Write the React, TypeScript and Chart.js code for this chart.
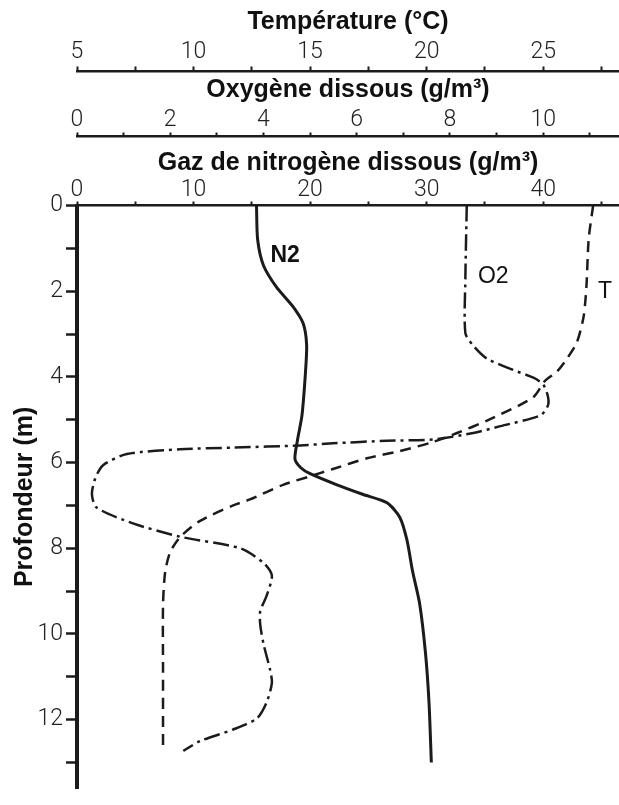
import React, { useEffect, useRef } from 'react';
import { Chart, registerables } from 'chart.js';

Chart.register(...registerables);

// Depth (m) and values
const n2Depth = [0, 0.8, 1.4, 1.9, 2.35, 2.75, 3.25, 3.9, 4.9, 5.5, 5.92, 6.12, 6.26, 6.52, 6.74, 6.94, 7.28, 7.8, 8.55, 9.3, 10.45, 11.6, 13.0];
const n2Values = [15.4, 15.5, 16.0, 17.1, 18.5, 19.4, 19.7, 19.6, 19.3, 18.9, 18.7, 19.2, 20.0, 22.3, 24.5, 26.6, 27.7, 28.3, 28.8, 29.4, 29.9, 30.2, 30.4];

const o2Depth = [0, 1.7, 2.98, 3.27, 3.57, 3.84, 4.02, 4.18, 4.45, 4.67, 4.9, 5.15, 5.31, 5.46, 5.49, 5.55, 5.6, 5.65, 5.69, 5.8, 6.06, 6.37, 6.74, 7.05, 7.42, 7.73, 8.0, 8.34, 8.64, 9.1, 9.47, 9.78, 10.23, 10.83, 11.14, 11.59, 11.97, 12.23, 12.5, 12.73];
const o2Values = [8.36, 8.33, 8.33, 8.5, 8.79, 9.36, 9.79, 10.0, 10.1, 10.1, 9.94, 9.08, 8.5, 7.64, 6.65, 5.49, 4.79, 3.35, 2.21, 1.07, 0.56, 0.39, 0.32, 0.42, 1.2, 2.21, 3.5, 4.0, 4.18, 4.07, 3.93, 3.93, 4.0, 4.14, 4.18, 4.07, 3.86, 3.35, 2.64, 2.28];

const tDepth = [0, 0.78, 1.91, 2.6, 3.2, 3.58, 3.88, 4.09, 4.48, 5.02, 5.31, 5.52, 5.73, 5.9, 6.15, 6.32, 6.52, 6.86, 7.0, 7.36, 7.74, 8.1, 8.56, 9.33, 10.83, 12.64];
const tValues = [27.14, 26.95, 26.85, 26.73, 26.44, 26.01, 25.58, 25.08, 24.56, 22.59, 21.3, 20.27, 18.86, 17.44, 15.98, 15.0, 13.84, 12.42, 11.7, 10.28, 9.42, 8.99, 8.78, 8.69, 8.69, 8.69];

// Axis ranges and titles
const depthRange = [0, 13.6];
const nitrogenRange = [0, 46.5];
const oxygenRange = [0, 11.625];
const temperatureRange = [5, 28.25];

const temperatureTitle = 'Température (°C)';
const oxygenTitle = 'Oxygène dissous (g/m³)';
const nitrogenTitle = 'Gaz de nitrogène dissous (g/m³)';
const depthTitle = 'Profondeur (m)';

// Curve labels (anchored in data units)
const curveLabels = [
  { text: 'N2', axis: 'xN', value: 16.6, depth: 1.16, weight: 'bold' },
  { text: 'O2', axis: 'xO', value: 8.6, depth: 1.67, weight: '500' },
  { text: 'T', axis: 'xT', value: 27.35, depth: 2.0, weight: '500' },
];

const toPoints = (xs: number[], ys: number[]) => xs.map((x, i) => ({ x, y: ys[i] }));

const INK = '#1b1b1b';
const tickFont = { family: 'Roboto, "Liberation Sans", Arial, sans-serif', size: 23, weight: '300' as any };
const titleFont = { family: '"Liberation Sans", Arial, sans-serif', size: 25, weight: 'bold' as any };

const labelPlugin = {
  id: 'curveLabels',
  afterDatasetsDraw(chart: any) {
    const ctx = chart.ctx;
    const y = chart.scales.y;
    ctx.save();
    ctx.fillStyle = '#111';
    ctx.textAlign = 'left';
    ctx.textBaseline = 'middle';
    curveLabels.forEach((l) => {
      const sx = chart.scales[l.axis];
      ctx.font = `${l.weight} 23px "Liberation Sans", Arial, sans-serif`;
      ctx.fillText(l.text, sx.getPixelForValue(l.value), y.getPixelForValue(l.depth));
    });
    ctx.restore();
  },
};

function topAxis(range: number[], step: number, labelEvery: number, title: string, height: number, weight: number, titlePad: number, tickLen: number, tickPad: number, borderW: number) {
  return {
    type: 'linear',
    position: 'top',
    min: range[0],
    max: range[1],
    weight,
    afterFit: (s: any) => { s.height = height; },
    border: { display: true, color: INK, width: borderW },
    grid: { display: true, drawOnChartArea: false, drawTicks: true, tickLength: tickLen, tickWidth: 2, tickColor: INK },
    ticks: {
      stepSize: step,
      includeBounds: false,
      autoSkip: false,
      maxRotation: 0,
      padding: tickPad,
      color: '#222',
      font: tickFont,
      callback: (v: any) => {
        const n = Number(v);
        return Math.abs(n / labelEvery - Math.round(n / labelEvery)) < 1e-6 ? String(n) : '';
      },
    },
    title: { display: true, text: title, color: '#111', font: titleFont, padding: { top: titlePad, bottom: 0 } },
  };
}

export default function App() {
  const ref = useRef<HTMLCanvasElement>(null);
  useEffect(() => {
    if (!ref.current) return;
    const chart = new Chart(ref.current, {
      type: 'scatter',
      data: {
        datasets: [
          {
            label: 'N2',
            data: toPoints(n2Values, n2Depth),
            xAxisID: 'xN',
            yAxisID: 'y',
            showLine: true,
            borderColor: INK,
            borderWidth: 3,
            pointRadius: 0,
            tension: 0.25,
          },
          {
            label: 'O2',
            data: toPoints(o2Values, o2Depth),
            xAxisID: 'xO',
            yAxisID: 'y',
            showLine: true,
            borderColor: INK,
            borderWidth: 2.5,
            borderDash: [16, 5, 3, 5],
            pointRadius: 0,
            tension: 0.25,
          },
          {
            label: 'T',
            data: toPoints(tValues, tDepth),
            xAxisID: 'xT',
            yAxisID: 'y',
            showLine: true,
            borderColor: INK,
            borderWidth: 2.5,
            borderDash: [11, 7],
            pointRadius: 0,
            tension: 0.25,
          },
        ],
      },
      options: {
        responsive: false,
        animation: false,
        devicePixelRatio: 1,
        layout: { padding: 0 },
        plugins: { legend: { display: false }, tooltip: { enabled: false } },
        scales: {
          xN: topAxis(nitrogenRange, 5, 10, nitrogenTitle, 69, 0, 12, 4, -3, 2.5),
          xO: topAxis(oxygenRange, 1, 2, oxygenTitle, 65, 1, 4, 4, -2, 2.5),
          xT: topAxis(temperatureRange, 2.5, 5, temperatureTitle, 71.5, 2, 7, 5, 0, 2.5),
          y: {
            type: 'linear',
            position: 'left',
            reverse: true,
            min: depthRange[0],
            max: depthRange[1],
            afterFit: (s: any) => { s.width = 77; },
            border: { display: true, color: INK, width: 4 },
            grid: { display: true, drawOnChartArea: false, drawTicks: true, tickLength: 11, tickWidth: 2.5, tickColor: INK },
            ticks: {
              stepSize: 1,
              includeBounds: false,
              autoSkip: false,
              padding: 3,
              color: '#222',
              font: tickFont,
              callback: (v: any) => (Number(v) % 2 === 0 ? String(v) : ''),
            },
            title: { display: true, text: depthTitle, color: '#111', font: titleFont, padding: { top: 10, bottom: 0 } },
          },
        } as any,
      },
      plugins: [labelPlugin],
    } as any);
    return () => chart.destroy();
  }, []);
  return (
    <div style={{ position: 'absolute', left: 0, top: 0, width: 619, height: 805, background: '#fff' }}>
      <canvas ref={ref} width={619} height={805} style={{ display: 'block' }} />
    </div>
  );
}
